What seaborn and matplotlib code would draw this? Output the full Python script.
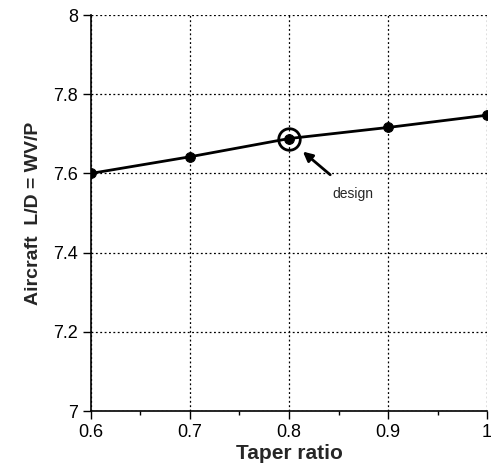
import matplotlib
matplotlib.use("Agg")
import matplotlib.pyplot as plt
import numpy as np
import pandas as pd
import seaborn as sns

# data
taper_ratio = [0.6, 0.7, 0.8, 0.9, 1.0]
lift_drag = [7.600, 7.642, 7.688, 7.716, 7.747]
design_point = (0.8, 7.688)
x_ticks = [0.6, 0.7, 0.8, 0.9, 1.0]
x_tick_labels = ["0.6", "0.7", "0.8", "0.9", "1"]
y_ticks = [7.0, 7.2, 7.4, 7.6, 7.8, 8.0]
y_tick_labels = ["7", "7.2", "7.4", "7.6", "7.8", "8"]

sns.set_theme(style="white")
plt.rcParams["font.family"] = ["Liberation Sans", "DejaVu Sans"]

df = pd.DataFrame({"taper": taper_ratio, "ld": lift_drag})

fig = plt.figure(figsize=(4.91, 4.63), dpi=100)
ax = fig.add_axes([0.1853, 0.1123, 0.8066, 0.8553])

sns.lineplot(data=df, x="taper", y="ld", ax=ax, color="black", linewidth=2,
             marker="o", markersize=7, markeredgecolor="black", zorder=3)

# design circle
ax.plot(*design_point, marker="o", markersize=15.5, markerfacecolor="none",
        markeredgecolor="black", markeredgewidth=2, zorder=4)
ax.annotate("design", xy=(0.814, 7.655), xytext=(0.8646, 7.548),
            ha="center", va="center", fontsize=10,
            arrowprops=dict(arrowstyle="-|>", color="black", lw=2,
                            mutation_scale=14, shrinkA=10, shrinkB=0))

ax.set_xlim(0.6, 1.0)
ax.set_ylim(7.0, 8.0)
ax.set_xticks(x_ticks)
ax.set_xticklabels(x_tick_labels)
ax.set_yticks(y_ticks)
ax.set_yticklabels(y_tick_labels)
ax.set_xticks(np.arange(0.65, 1.0, 0.1), minor=True)

ax.grid(True, which="major", color="black", linestyle=(0, (1.5, 2)), linewidth=0.9)
for side in ["top", "right"]:
    ax.spines[side].set_visible(False)
for side in ["left", "bottom"]:
    ax.spines[side].set_color("black")
    ax.spines[side].set_linewidth(1.2)

ax.tick_params(which="major", direction="out", length=6, width=1, colors="black",
               labelsize=13, bottom=True, left=True)
ax.tick_params(which="minor", direction="out", length=3, width=1, colors="black",
               bottom=True, left=False)

ax.set_xlabel("Taper ratio", fontsize=15, fontweight="bold", labelpad=2)
ax.set_ylabel("Aircraft  L/D = WV/P", fontsize=14, fontweight="bold", labelpad=8)

fig.savefig("out.png", dpi=100)
